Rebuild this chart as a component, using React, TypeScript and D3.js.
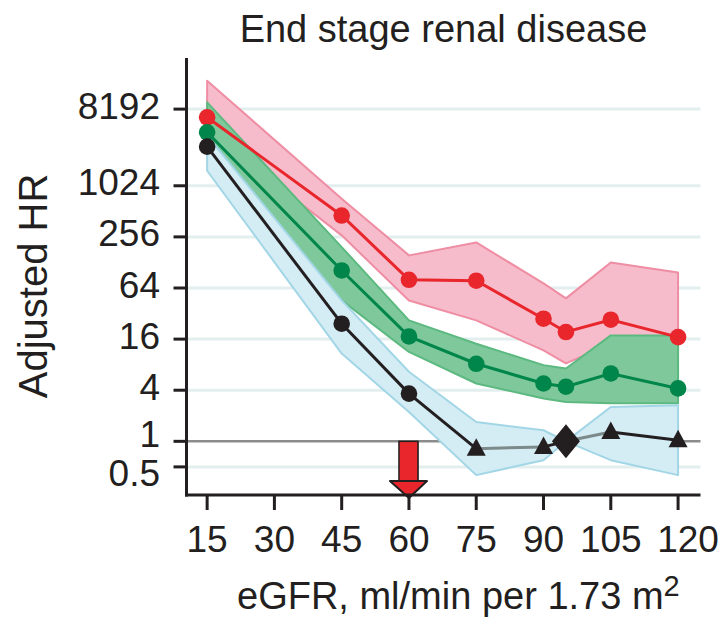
import React from 'react';
import * as d3 from 'd3';

// eGFR categories (ml/min per 1.73 m²) at which hazard ratios were estimated
const egfr = [15, 45, 60, 75, 90, 95, 105, 120];
const xTicks = [15, 30, 45, 60, 75, 90, 105, 120];
const yTicks = [0.5, 1, 4, 16, 64, 256, 1024, 8192];

// Heavy albuminuria (red)
const hrHigh = [6560, 457, 80, 78, 27.8, 19.4, 27.1, 16.9];
const hrHighUpper = [17700, 719, 155, 220, 72.5, 48.3, 128, 97.7];
const hrHighLower = [4570, 267, 45.7, 26.6, 11.8, 8.3, 14, 11];

// Moderate albuminuria (green)
const hrMid = [4370, 103, 17.2, 8.2, 4.8, 4.4, 6.3, 4.2];
const hrMidUpper = [9850, 194, 26.6, 14.1, 7.9, 7.2, 17.7, 17.7];
const hrMidLower = [2900, 45.7, 11.3, 4.8, 3.2, 2.9, 2.8, 2.8];

// Normal albuminuria (black, blue band); 95 is the reference point
const hrLow = [2960, 24.3, 3.65, 0.82, 0.86, 1, 1.29, 1.03];
const hrLowUpper = [4000, 45.7, 6.6, 1.69, 1.35, 1, 2.54, 2.66];
const hrLowLower = [1540, 10.8, 2.22, 0.4, 0.6, 1, 0.6, 0.4];
const lowMarkers = ['circle', 'circle', 'circle', 'triangle', 'triangle', 'diamond', 'triangle', 'triangle'];
const lowSegmentColors = ['#231f20', '#231f20', '#231f20', '#7d8a8a', '#231f20', '#7d8a8a', '#231f20'];

const referenceHR = 1;
const thresholdEgfr = 60;

const FONT = '"Liberation Sans", Arial, Helvetica, sans-serif';
const INK = '#231f20';

const W = 719;
const H = 617;

const x = d3.scaleLinear().domain([10.4, 125]).range([186.5, 700.5]);
const y = d3.scaleLog().base(2).domain([Math.pow(2, -2.1), Math.pow(2, 15)]).range([495, 58]);

type Row = { e: number; v: number; lo: number; hi: number };
const rows = (v: number[], lo: number[], hi: number[]): Row[] =>
  egfr.map((e, i) => ({ e, v: v[i], lo: lo[i], hi: hi[i] }));

const band = d3
  .area<Row>()
  .x((d) => x(d.e))
  .y0((d) => y(d.lo))
  .y1((d) => y(d.hi));

const line = d3
  .line<Row>()
  .x((d) => x(d.e))
  .y((d) => y(d.v));

const highRows = rows(hrHigh, hrHighLower, hrHighUpper);
const midRows = rows(hrMid, hrMidLower, hrMidUpper);
const lowRows = rows(hrLow, hrLowLower, hrLowUpper);

function Marker({ kind, cx, cy, fill }: { kind: string; cx: number; cy: number; fill: string }) {
  if (kind === 'triangle') {
    const p = [
      [cx, cy - 10.5],
      [cx + 9.5, cy + 7],
      [cx - 9.5, cy + 7],
    ];
    return <polygon points={p.map((q) => q.join(',')).join(' ')} fill={fill} />;
  }
  if (kind === 'diamond') {
    const p = [
      [cx, cy - 17],
      [cx + 14, cy],
      [cx, cy + 17],
      [cx - 14, cy],
    ];
    return <polygon points={p.map((q) => q.join(',')).join(' ')} fill={fill} />;
  }
  return <circle cx={cx} cy={cy} r={8.3} fill={fill} />;
}

export default function App() {
  const x0 = x.range()[0];
  const x1 = x.range()[1];
  const yTop = y.range()[1];
  const yBottom = y.range()[0];

  const yNudge: Record<number, number> = { 1: -3.5, 0.5: 10 };
  const xNudge: Record<number, number> = { 120: 10 };

  // threshold arrow from HR = 1 down to the axis
  const ax = x(thresholdEgfr);
  const aTop = y(referenceHR);
  const headTop = yBottom - 14;

  return (
    <div style={{ position: 'absolute', left: 0, top: 0 }}>
      <svg width={W} height={H} style={{ display: 'block', background: '#fff' }}>
        {/* title */}
        <text x={(x0 + x1) / 2} y={42} textAnchor="middle" fontFamily={FONT} fontSize={38} fill={INK}>
          End stage renal disease
        </text>

        {/* horizontal grid */}
        {yTicks
          .filter((t) => t !== referenceHR)
          .map((t) => (
            <line key={'g' + t} x1={x0} x2={x1} y1={y(t)} y2={y(t)} stroke="#e3eeee" strokeWidth={3} />
          ))}
        <line x1={x0} x2={x1} y1={y(referenceHR)} y2={y(referenceHR)} stroke="#8c8c8c" strokeWidth={2.5} />

        {/* confidence bands */}
        <path d={band(highRows) || ''} fill="#f6bccb" stroke="#ef8da3" strokeWidth={2} strokeLinejoin="round" />
        <path d={band(midRows) || ''} fill="#7ec89c" stroke="#5cb97f" strokeWidth={2} strokeLinejoin="round" />
        <path d={band(lowRows) || ''} fill="#d4ecf4" stroke="#a2d6e6" strokeWidth={2} strokeLinejoin="round" />

        {/* series lines */}
        <path d={line(highRows) || ''} fill="none" stroke="#e8262b" strokeWidth={3} />
        <path d={line(midRows) || ''} fill="none" stroke="#00864a" strokeWidth={3} />
        {lowRows.slice(1).map((d, i) => (
          <path
            key={'s' + i}
            d={line([lowRows[i], d]) || ''}
            fill="none"
            stroke={lowSegmentColors[i]}
            strokeWidth={3}
          />
        ))}

        {/* markers */}
        {highRows.map((d, i) => (
          <Marker key={'h' + i} kind="circle" cx={x(d.e)} cy={y(d.v)} fill="#e8262b" />
        ))}
        {midRows.map((d, i) => (
          <Marker key={'m' + i} kind="circle" cx={x(d.e)} cy={y(d.v)} fill="#00864a" />
        ))}
        {lowRows.map((d, i) => (
          <Marker key={'l' + i} kind={lowMarkers[i]} cx={x(d.e)} cy={y(d.v)} fill={INK} />
        ))}

        {/* threshold arrow */}
        <rect x={ax - 6} y={aTop} width={16} height={headTop - aTop} fill="#9a9a9a" />
        <rect x={ax - 10} y={aTop} width={19} height={headTop - aTop + 2} fill="#e8262b" stroke={INK} strokeWidth={1.5} />
        <polygon
          points={`${ax - 19},${headTop} ${ax + 18},${headTop} ${ax},${yBottom + 3}`}
          fill="#e8262b"
          stroke={INK}
          strokeWidth={2}
          strokeLinejoin="round"
        />

        {/* axes */}
        <line x1={x0} x2={x0} y1={yTop} y2={yBottom + 1.5} stroke={INK} strokeWidth={3} />
        <line x1={x0 - 1.5} x2={x1} y1={yBottom} y2={yBottom} stroke={INK} strokeWidth={3} />
        {yTicks.map((t) => (
          <g key={'yt' + t}>
            <line x1={x0 - 13} x2={x0} y1={y(t)} y2={y(t)} stroke={INK} strokeWidth={3} />
            <text
              x={160}
              y={y(t) + 9.5 + (yNudge[t] || 0)}
              textAnchor="end"
              fontFamily={FONT}
              fontSize={37}
              fill={INK}
            >
              {String(t)}
            </text>
          </g>
        ))}
        {xTicks.map((t) => (
          <g key={'xt' + t}>
            <line x1={x(t)} x2={x(t)} y1={yBottom} y2={yBottom + 15} stroke={INK} strokeWidth={3} />
            <text
              x={x(t) + (xNudge[t] || 0)}
              y={552}
              textAnchor="middle"
              fontFamily={FONT}
              fontSize={37}
              fill={INK}
            >
              {String(t)}
            </text>
          </g>
        ))}

        {/* axis titles */}
        <text x={237} y={609} fontFamily={FONT} fontSize={38} fill={INK}>
          eGFR, ml/min per 1.73 m
          <tspan fontSize={29} dy={-13}>
            2
          </tspan>
        </text>
        <text
          transform={`translate(47, 286) rotate(-90)`}
          textAnchor="middle"
          fontFamily={FONT}
          fontSize={40}
          fill={INK}
        >
          Adjusted HR
        </text>
      </svg>
    </div>
  );
}
